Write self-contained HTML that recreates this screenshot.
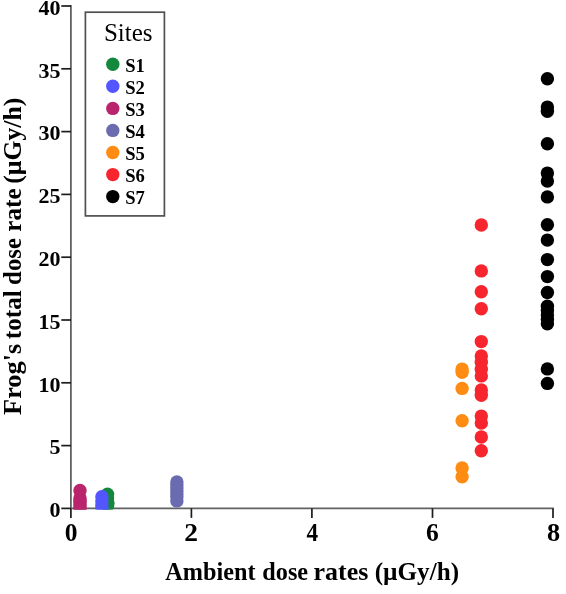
<!DOCTYPE html>
<html><head><meta charset="utf-8"><title>Chart</title>
<style>
html,body{margin:0;padding:0;background:#fff;}
svg{display:block;font-family:"Liberation Serif","DejaVu Serif",serif;}
.tk{font-size:22px;font-weight:bold;fill:#000;}
.lg{font-size:18.6px;font-weight:bold;fill:#000;}
.ttl{font-size:24.4px;font-weight:bold;fill:#000;}
.ax line{stroke:#1c1c1c;stroke-width:1.7;}
.ax line.m{stroke:#626262;stroke-width:1.8;}
</style></head><body>
<svg width="566" height="594" viewBox="0 0 566 594">
<rect width="566" height="594" fill="#fff"/>
<defs><clipPath id="cp"><rect x="0" y="0" width="566" height="509.5"/></clipPath></defs>
<g class="ax">
<line class="m" x1="70.9" y1="5.05" x2="70.9" y2="509.34999999999997"/>
<line class="m" x1="70" y1="508.4" x2="553.9" y2="508.4"/>
<line x1="61.3" y1="508.4" x2="71" y2="508.4"/>
<text class="tk" x="60.6" y="517.2" text-anchor="end">0</text>
<line x1="61.3" y1="445.6" x2="71" y2="445.6"/>
<text class="tk" x="60.6" y="454.4" text-anchor="end">5</text>
<line x1="61.3" y1="382.8" x2="71" y2="382.8"/>
<text class="tk" x="60.6" y="391.6" text-anchor="end">10</text>
<line x1="61.3" y1="320.0" x2="71" y2="320.0"/>
<text class="tk" x="60.6" y="328.8" text-anchor="end">15</text>
<line x1="61.3" y1="257.2" x2="71" y2="257.2"/>
<text class="tk" x="60.6" y="266.0" text-anchor="end">20</text>
<line x1="61.3" y1="194.4" x2="71" y2="194.4"/>
<text class="tk" x="60.6" y="203.2" text-anchor="end">25</text>
<line x1="61.3" y1="131.6" x2="71" y2="131.6"/>
<text class="tk" x="60.6" y="140.4" text-anchor="end">30</text>
<line x1="61.3" y1="68.8" x2="71" y2="68.8"/>
<text class="tk" x="60.6" y="77.6" text-anchor="end">35</text>
<line x1="61.3" y1="6.0" x2="71" y2="6.0"/>
<text class="tk" x="60.6" y="14.8" text-anchor="end">40</text>
<line x1="70.9" y1="508.4" x2="70.9" y2="517.9"/>
<text class="tk" transform="translate(71.20,540.8) scale(1.02,1)" text-anchor="middle" style="font-size:25px">0</text>
<line x1="191.4" y1="508.4" x2="191.4" y2="517.9"/>
<text class="tk" transform="translate(191.02,540.8) scale(1.1,1)" text-anchor="middle" style="font-size:25px">2</text>
<line x1="311.9" y1="508.4" x2="311.9" y2="517.9"/>
<text class="tk" transform="translate(312.34,540.8) scale(0.93,1)" text-anchor="middle" style="font-size:25px">4</text>
<line x1="432.5" y1="508.4" x2="432.5" y2="517.9"/>
<text class="tk" transform="translate(432.46,540.8) scale(1.02,1)" text-anchor="middle" style="font-size:25px">6</text>
<line x1="553.0" y1="508.4" x2="553.0" y2="517.9"/>
<text class="tk" transform="translate(553.63,541.1999999999999) scale(1.05,1)" text-anchor="middle" style="font-size:25px">8</text>
</g>
<g clip-path="url(#cp)">
<circle cx="547.4" cy="78.8" r="6.7" fill="#000000"/>
<circle cx="547.4" cy="107.1" r="6.7" fill="#000000"/>
<circle cx="547.4" cy="111.2" r="6.7" fill="#000000"/>
<circle cx="547.4" cy="143.8" r="6.7" fill="#000000"/>
<circle cx="547.4" cy="173.1" r="6.7" fill="#000000"/>
<circle cx="547.4" cy="181.0" r="6.7" fill="#000000"/>
<circle cx="547.4" cy="196.9" r="6.7" fill="#000000"/>
<circle cx="547.4" cy="224.7" r="6.7" fill="#000000"/>
<circle cx="547.4" cy="240.1" r="6.7" fill="#000000"/>
<circle cx="547.4" cy="259.6" r="6.7" fill="#000000"/>
<circle cx="547.4" cy="276.6" r="6.7" fill="#000000"/>
<circle cx="547.4" cy="292.5" r="6.7" fill="#000000"/>
<circle cx="547.4" cy="306.3" r="6.7" fill="#000000"/>
<circle cx="547.4" cy="310.5" r="6.7" fill="#000000"/>
<circle cx="547.4" cy="315" r="6.7" fill="#000000"/>
<circle cx="547.4" cy="319.5" r="6.7" fill="#000000"/>
<circle cx="547.4" cy="323.8" r="6.7" fill="#000000"/>
<circle cx="547.4" cy="368.9" r="6.7" fill="#000000"/>
<circle cx="547.4" cy="383.4" r="6.7" fill="#000000"/>
<circle cx="481.3" cy="225" r="6.7" fill="#f7252d"/>
<circle cx="481.3" cy="270.9" r="6.7" fill="#f7252d"/>
<circle cx="481.3" cy="291.8" r="6.7" fill="#f7252d"/>
<circle cx="481.3" cy="308.7" r="6.7" fill="#f7252d"/>
<circle cx="481.3" cy="341.6" r="6.7" fill="#f7252d"/>
<circle cx="481.3" cy="355.9" r="6.7" fill="#f7252d"/>
<circle cx="481.3" cy="362.3" r="6.7" fill="#f7252d"/>
<circle cx="481.3" cy="369.3" r="6.7" fill="#f7252d"/>
<circle cx="481.3" cy="375.9" r="6.7" fill="#f7252d"/>
<circle cx="481.3" cy="389.9" r="6.7" fill="#f7252d"/>
<circle cx="481.3" cy="395.3" r="6.7" fill="#f7252d"/>
<circle cx="481.3" cy="416.1" r="6.7" fill="#f7252d"/>
<circle cx="481.3" cy="423.1" r="6.7" fill="#f7252d"/>
<circle cx="481.3" cy="437.0" r="6.7" fill="#f7252d"/>
<circle cx="481.3" cy="450.8" r="6.7" fill="#f7252d"/>
<circle cx="462.1" cy="369.1" r="6.7" fill="#ff8c12"/>
<circle cx="462.1" cy="372.2" r="6.7" fill="#ff8c12"/>
<circle cx="462.1" cy="388.4" r="6.7" fill="#ff8c12"/>
<circle cx="462.1" cy="420.8" r="6.7" fill="#ff8c12"/>
<circle cx="462.1" cy="467.9" r="6.7" fill="#ff8c12"/>
<circle cx="462.1" cy="476.7" r="6.7" fill="#ff8c12"/>
<circle cx="176.9" cy="481.9" r="6.7" fill="#6b6bb0"/>
<circle cx="176.9" cy="485" r="6.7" fill="#6b6bb0"/>
<circle cx="176.9" cy="488" r="6.7" fill="#6b6bb0"/>
<circle cx="176.9" cy="491" r="6.7" fill="#6b6bb0"/>
<circle cx="176.9" cy="494" r="6.7" fill="#6b6bb0"/>
<circle cx="176.9" cy="497" r="6.7" fill="#6b6bb0"/>
<circle cx="176.9" cy="500.9" r="6.7" fill="#6b6bb0"/>
<circle cx="107.5" cy="494.2" r="6.7" fill="#14883c"/>
<circle cx="107.5" cy="498" r="6.7" fill="#14883c"/>
<circle cx="107.5" cy="502" r="6.7" fill="#14883c"/>
<circle cx="107.5" cy="506" r="6.7" fill="#14883c"/>
<circle cx="107.9" cy="503.5" r="6.7" fill="#14883c"/>
<circle cx="101.9" cy="496.7" r="6.7" fill="#5355ff"/>
<circle cx="101.9" cy="501" r="6.7" fill="#5355ff"/>
<circle cx="101.9" cy="505" r="6.7" fill="#5355ff"/>
<circle cx="101.9" cy="508" r="6.7" fill="#5355ff"/>
<circle cx="80" cy="490.4" r="6.7" fill="#b9246c"/>
<circle cx="80" cy="497.9" r="6.7" fill="#b9246c"/>
<circle cx="80" cy="500.5" r="6.7" fill="#b9246c"/>
<circle cx="80" cy="502.5" r="6.7" fill="#b9246c"/>
<circle cx="80" cy="505" r="6.7" fill="#b9246c"/>
<circle cx="80" cy="507.5" r="6.7" fill="#b9246c"/>
<circle cx="80" cy="510" r="6.7" fill="#b9246c"/>
</g>
<rect x="85.4" y="12.2" width="79" height="203.7" fill="#fff" stroke="#505050" stroke-width="1.7"/>
<text x="128.2" y="40.6" text-anchor="middle" style="font-size:25px">Sites</text>
<circle cx="112.8" cy="64.3" r="6.7" fill="#14883c"/>
<text class="lg" x="125.2" y="71.6">S1</text>
<circle cx="112.8" cy="86.3" r="6.7" fill="#5355ff"/>
<text class="lg" x="125.2" y="93.6">S2</text>
<circle cx="112.8" cy="108.4" r="6.7" fill="#b9246c"/>
<text class="lg" x="125.2" y="115.7">S3</text>
<circle cx="112.8" cy="130.4" r="6.7" fill="#6b6bb0"/>
<text class="lg" x="125.2" y="137.8">S4</text>
<circle cx="112.8" cy="152.5" r="6.7" fill="#ff8c12"/>
<text class="lg" x="125.2" y="159.8">S5</text>
<circle cx="112.8" cy="174.6" r="6.7" fill="#f7252d"/>
<text class="lg" x="125.2" y="181.9">S6</text>
<circle cx="112.8" cy="196.6" r="6.7" fill="#000000"/>
<text class="lg" x="125.2" y="203.9">S7</text>
<text class="ttl" style="font-size:24.85px" transform="translate(165.35,579.6) scale(0.975,1)">Ambient</text>
<text class="ttl" style="font-size:24.85px" transform="translate(262.3,579.6) scale(0.975,1)">dose</text>
<text class="ttl" style="font-size:24.85px" transform="translate(313.48,579.6) scale(1.045,1)">rates</text>
<text class="ttl" style="font-size:24.85px" transform="translate(374.70,579.6) scale(1.012,1)">(µGy/h)</text>
<g transform="translate(21.4,256.35) rotate(-90)">
<text class="ttl" style="font-size:25.15px" transform="translate(-158.53,0) scale(1.045,1)">Frog's</text>
<text class="ttl" style="font-size:25.15px" transform="translate(-82.78,0) scale(1.0,1)">total</text>
<text class="ttl" style="font-size:25.15px" transform="translate(-28.53,0) scale(0.985,1)">dose</text>
<text class="ttl" style="font-size:25.15px" transform="translate(24.66,0) scale(1.0,1)">rate</text>
<text class="ttl" style="font-size:25.15px" transform="translate(72.70,0) scale(1.018,1)">(µGy/h)</text>
</g>
</svg>
</body></html>
